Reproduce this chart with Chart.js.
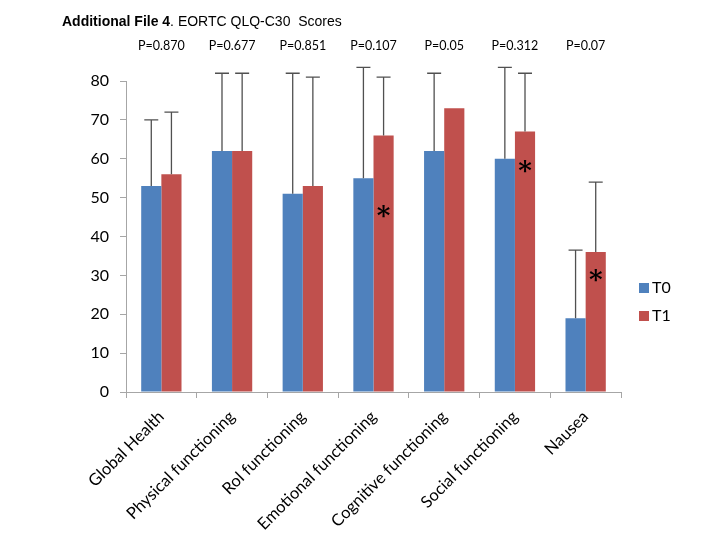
<!DOCTYPE html>
<html>
<head>
<meta charset="utf-8">
<script src="https://cdn.jsdelivr.net/npm/chart.js@4.4.1/dist/chart.umd.min.js"></script>
<style>
  body { margin: 0; background: #fff; }
  #wrap { width: 720px; height: 540px; }
</style>
</head>
<body>
<div id="wrap"><canvas id="myChart" width="720" height="540"></canvas></div>
<script>
'use strict';
let categories = ['Global Health', 'Physical functioning', 'Rol functioning', 'Emotional functioning',
    'Cognitive functioning', 'Social functioning', 'Nausea'];
let t0Values = [53, 62, 51, 55, 62, 60, 19];
let t1Values = [56, 62, 53, 66, 73, 67, 36];
// upper error bars only (size above the bar)
let t0Err = [17, 20, 31, 28.5, 20, 23.5, 17.5];
let t1Err = [16, 20, 28, 15, null, 15, 18];
let pValues = ['P=0.870', 'P=0.677', 'P=0.851', 'P=0.107', 'P=0.05', 'P=0.312', 'P=0.07'];
// asterisks drawn on the T1 bars, at this value
let t1Stars = [null, null, null, 46.5, null, 58, 30];
let yTicks = [0, 10, 20, 30, 40, 50, 60, 70, 80];

let blue = '#4F81BD';
let red = '#C0504D';

let extras = {
    id: 'extras',
    afterDatasetsDraw(chart) {
        let ctx = chart.ctx;
        let y = chart.scales.y;
        ctx.save();
        ctx.strokeStyle = '#505050';
        ctx.lineWidth = 1.3;
        [t0Err, t1Err].forEach(function (errs, di) {
            let meta = chart.getDatasetMeta(di);
            let vals = chart.data.datasets[di].data;
            meta.data.forEach(function (bar, i) {
                if (!errs[i]) return;
                let yb = y.getPixelForValue(vals[i]);
                let yt = y.getPixelForValue(vals[i] + errs[i]);
                ctx.beginPath();
                ctx.moveTo(bar.x, yb);
                ctx.lineTo(bar.x, yt);
                ctx.moveTo(bar.x - 7, yt);
                ctx.lineTo(bar.x + 7, yt);
                ctx.stroke();
            });
        });
        // asterisks
        ctx.fillStyle = '#000';
        ctx.font = 'bold 26px "DejaVu Serif"';
        ctx.textAlign = 'center';
        ctx.textBaseline = 'middle';
        let meta1 = chart.getDatasetMeta(1);
        t1Stars.forEach(function (v, i) {
            if (v == null) return;
            ctx.fillText('*', meta1.data[i].x, y.getPixelForValue(v) + 6);
        });
        ctx.restore();
    },
    afterDraw(chart) {
        let ctx = chart.ctx;
        let x = chart.scales.x;
        ctx.save();
        // title
        ctx.fillStyle = '#000';
        ctx.textBaseline = 'alphabetic';
        ctx.textAlign = 'left';
        ctx.font = 'bold 14px "Liberation Sans"';
        let t1 = 'Additional File 4';
        ctx.fillText(t1, 62, 26);
        let w = ctx.measureText(t1).width;
        ctx.font = '14px "Liberation Sans"';
        ctx.fillText('. EORTC QLQ-C30  Scores', 62 + w, 26);
        // p values
        ctx.font = '12.5px Lato';
        ctx.textAlign = 'center';
        pValues.forEach(function (p, i) {
            ctx.fillText(p, x.getPixelForValue(i), 50);
        });
        // legend
        let names = ['T0', 'T1'];
        let cols = [blue, red];
        ctx.textAlign = 'left';
        ctx.textBaseline = 'middle';
        ctx.font = '16px Lato';
        names.forEach(function (n, i) {
            let yy = 288 + i * 28;
            ctx.fillStyle = cols[i];
            ctx.fillRect(639, yy - 5, 10, 10);
            ctx.fillStyle = '#000';
            ctx.fillText(n, 652, yy);
        });
        ctx.restore();
    }
};

let ctx = document.getElementById('myChart').getContext('2d');
let myChart = new Chart(ctx, {
    type: 'bar',
    data: {
        labels: categories,
        datasets: [{
            label: 'T0',
            data: t0Values,
            backgroundColor: blue,
            borderWidth: 0
        }, {
            label: 'T1',
            data: t1Values,
            backgroundColor: red,
            borderWidth: 0
        }]
    },
    options: {
        responsive: false,
        animation: false,
        layout: { padding: { top: 81, right: 99, left: 0, bottom: 0 } },
        datasets: { bar: { barPercentage: 1.0, categoryPercentage: 0.57 } },
        plugins: {
            legend: { display: false },
            tooltip: { enabled: false }
        },
        scales: {
            x: {
                afterFit(scale) { scale.height = 148; },
                grid: { offset: true, drawOnChartArea: false, drawTicks: true, tickLength: 6, color: '#a6a6a6' },
                border: { color: '#a6a6a6' },
                ticks: {
                    minRotation: 45, maxRotation: 45, padding: 9,
                    color: '#000',
                    font: { family: 'Lato', size: 16.5 }
                }
            },
            y: {
                min: 0, max: 80,
                afterFit(scale) { scale.width = 126; },
                afterBuildTicks(scale) { scale.ticks = yTicks.map(function (v) { return { value: v }; }); },
                grid: { drawOnChartArea: false, drawTicks: true, tickLength: 6, color: '#a6a6a6' },
                border: { color: '#a6a6a6' },
                ticks: {
                    padding: 11,
                    color: '#000',
                    font: { family: 'Lato', size: 16 }
                }
            }
        }
    },
    plugins: [extras]
});
</script>
</body>
</html>
